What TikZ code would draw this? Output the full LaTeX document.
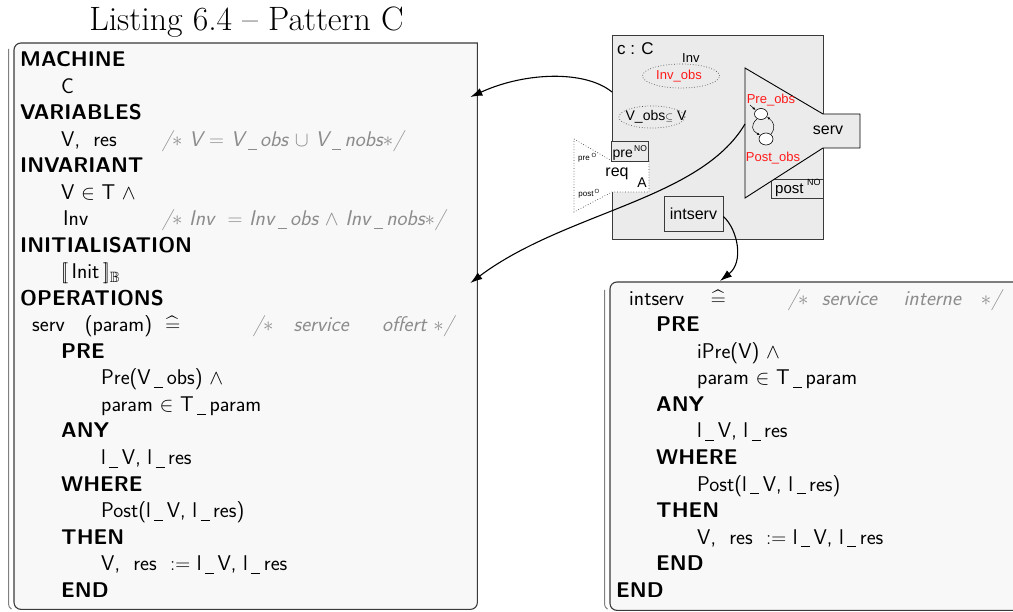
\documentclass[tikz,border=0pt]{standalone}
\usepackage{fontspec}
\usepackage{amssymb}
\usetikzlibrary{arrows.meta,calc}
\newfontfamily\arialf{Liberation Sans}
\definecolor{boxfill}{HTML}{F8F8F8}
\definecolor{compfill}{HTML}{EBEBEB}
\definecolor{cmtgray}{HTML}{8C8C8C}
\definecolor{obsred}{HTML}{FF1A1A}
\definecolor{framegray}{HTML}{3A3A3A}
\definecolor{bargray}{HTML}{808080}
\newcommand{\hateq}{\mathrel{\widehat{=}}}
\newcommand{\us}{\kern3.5pt\rule[-3pt]{9pt}{0.8pt}\kern3.5pt}
\begin{document}
\begin{tikzpicture}[x=1pt,y=-1pt,
  lst/.style={anchor=base west,inner sep=0pt,font=\fontsize{21.3}{25}\selectfont\sffamily},
  kw/.style={anchor=base west,inner sep=0pt,font=\fontsize{21.3}{25}\selectfont\sffamily\bfseries},
  cmt/.style={anchor=base west,inner sep=0pt,text=cmtgray,font=\fontsize{21.3}{25}\selectfont\sffamily\itshape},
  boxline/.style={draw=framegray,line width=1.1pt},
  barline/.style={draw=bargray,line width=1pt},
  dg/.style={inner sep=0pt,font=\fontsize{#1}{#1}\selectfont\arialf},
  dg/.default=15,
  conn/.style={line width=1.1pt,-{Latex[length=12pt,width=8pt]}},
  tiny/.style={line width=0.5pt,-{Latex[length=3pt,width=2.5pt]}},
  dotline/.style={dotted,line width=0.7pt,draw=black!70}]
\useasboundingbox (0,0) rectangle (1013,612);
\clip (0,0) rectangle (1013,612);

% title
\node[anchor=base,inner sep=0pt,font=\fontsize{33.8}{40}\selectfont\rmfamily] (title) at (246.5,31) {Listing 6.4 -- Pattern C};

% frames
\node[anchor=north west,minimum width=463pt,minimum height=566pt,inner sep=0pt] (lbox) at (14,43) {};
\node[anchor=north west,minimum width=420pt,minimum height=328pt,inner sep=0pt] (rbox) at (610,282) {};
\draw[boxline,fill=boxfill] (lbox.north east) [rounded corners=7pt] -- (lbox.south east) -- (lbox.south west) -- (lbox.north west) [sharp corners] -- cycle;
\draw[boxline,fill=boxfill] (rbox.north east) [rounded corners=7pt] -- (rbox.north west) -- (rbox.south west) -- (rbox.south east);
\draw[barline] (8.5,49) -- (8.5,604) arc[start angle=180,end angle=240,radius=6pt];
\draw[barline] (604.5,290) -- (604.5,604) arc[start angle=180,end angle=240,radius=6pt];

% left listing
\node[kw]  (l1)  at (20,67)    {MACHINE};
\node[lst] (l2)  at (61,93.5)  {C};
\node[kw]  (l3)  at (20,120)   {VARIABLES};
\node[lst] (l4)  at (61,146.5) {V,\ \ res};
\node[cmt] (c4)  at (162,146.5) {/$\ast$\ V $=$ V\us obs $\cup$\ V\us nobs$\ast$/};
\node[kw]  (l5)  at (20,173)   {INVARIANT};
\node[lst] (l6)  at (61,199.5) {V $\in$ T $\wedge$};
\node[lst] (l7)  at (63,226)   {Inv};
\node[cmt] (c7)  at (162,226)  {/$\ast$\ Inv\ \ $=$\ Inv\us obs $\wedge$ Inv\us nobs$\ast$/};
\node[kw]  (l8)  at (20,252.5) {INITIALISATION};
\node[lst] (l9)  at (61,279)   {$[\![$\,Init\,$]\!]_{\mathbb{B}}$};
\node[kw]  (l10) at (20,305.5) {OPERATIONS};
\node[lst] (l11) at (32,332)   {serv\ \ \ (param)\ \ $\hateq$};
\node[cmt] (c11) at (253,332)  {/$\ast$\ \ \ service\ \ \ \ \ offert\ $\ast$/};
\node[kw]  (l12) at (61,358.5) {PRE};
\node[lst] (l13) at (101,385)  {Pre(V\us obs) $\wedge$};
\node[lst] (l14) at (101,411.5) {param $\in$ T\us param};
\node[kw]  (l15) at (61,438)   {ANY};
\node[lst] (l16) at (101,464.5) {l\us V, l\us res};
\node[kw]  (l17) at (61,491)   {WHERE};
\node[lst] (l18) at (101,517.5) {Post(l\us V, l\us res)};
\node[kw]  (l19) at (61,544)   {THEN};
\node[lst] (l20) at (101,570.5) {V,\ \ res\ \ $:=$ l\us V, l\us res};
\node[kw]  (l21) at (61,597)   {END};

% right listing
\node[lst] (r10) at (629,305.5) {intserv\ \ \ \ $\hateq$};
\node[cmt] (rc10) at (788,305.5) {/$\ast$\ \ service\ \ \ \ interne\ \ \ $\ast$/};
\node[kw]  (r11) at (656,332)   {PRE};
\node[lst] (r12) at (697,358.5) {iPre(V) $\wedge$};
\node[lst] (r13) at (697,385)   {param $\in$ T\us param};
\node[kw]  (r14) at (656,411.5) {ANY};
\node[lst] (r15) at (697,438)   {l\us V, l\us res};
\node[kw]  (r16) at (656,464.5) {WHERE};
\node[lst] (r17) at (697,491)   {Post(l\us V, l\us res)};
\node[kw]  (r18) at (656,517.5) {THEN};
\node[lst] (r19) at (697,544)   {V,\ \ res\ \ $:=$ l\us V, l\us res};
\node[kw]  (r20) at (656,570.5) {END};
\node[kw]  (r21) at (616,597)   {END};

% component
\node[anchor=north west,draw=framegray,line width=0.9pt,fill=compfill,minimum width=211pt,minimum height=204pt,inner sep=0pt] (comp) at (612,35) {};
\node[dg=17,anchor=base west] (cname) at (617,55) {c : C};
\node[dg=13,anchor=base west] (inv) at (682,63) {Inv};
\draw[dotline] (681,76) ellipse[x radius=38.5pt,y radius=12pt];
\node[dg=13,text=obsred] (invobs) at (679,76) {Inv\_obs};
\draw[dotline] (652,117) ellipse[x radius=33pt,y radius=11pt];
\node[dg=14] (vobs) at (656,117) {V\_obs{\fontsize{10}{10}\selectfont$\subseteq$} V};

% req
\draw[dotline,fill=white] (574,139) -- (612,161) -- (649,161) -- (649,192) -- (612,192) -- (574,212) -- cycle;
\node[dg=16] (req) at (617,174) {req};
\node[dg=14] (reqA) at (642,183) {A};
\node[dg=8] (preo) at (584,159) {pre};
\node[dg=6] (preos) at (594,155) {O};
\node[dg=8] (posto) at (586,195) {post};
\node[dg=6] (postos) at (597,191) {O};

% pre box
\node[anchor=north west,draw=framegray,line width=0.9pt,fill=compfill,minimum width=37pt,minimum height=20pt,inner sep=0pt] (prebox) at (611,141) {};
\node[dg=14,anchor=base west] (pretxt) at (612.5,158) {pre};
\node[dg=8.5,anchor=base west] (preno) at (634,152) {NO};

% post box
\node[anchor=north west,draw=framegray,line width=0.9pt,fill=compfill,minimum width=52pt,minimum height=19pt,inner sep=0pt] (postbox) at (771,179) {};
\node[dg=15,anchor=base west] (posttxt) at (775,194) {post};
\node[dg=9,anchor=base west] (postno) at (807,186) {NO};

% serv
\draw[draw=black,line width=0.9pt,fill=compfill] (745,68) -- (823,114) -- (860,114) -- (860,148) -- (823,148) -- (745,198) -- cycle;
\node[dg=16] (serv) at (828,130) {serv};
\node[dg=13,text=obsred] (preobs) at (771,100) {Pre\_obs};
\node[dg=13,text=obsred] (postobs) at (773,158) {Post\_obs};
\draw[line width=0.6pt,fill=white] (761,114) ellipse[x radius=6.5pt,y radius=5.5pt];
\draw[line width=0.6pt,fill=white] (766,139) ellipse[x radius=7pt,y radius=6pt];
\draw[tiny] (750,105) -- (755.5,110);
\draw[tiny] (757,119) .. controls (750,125) and (752,131) .. (760,135);
\draw[tiny] (771,134) .. controls (776,128) and (774,122) .. (767,117);

% intserv
\node[draw=framegray,line width=0.9pt,fill=compfill,minimum width=59pt,minimum height=35pt,inner sep=0pt,font=\fontsize{16}{16}\selectfont\arialf] (intserv) at (693.5,213.5) {intserv};

% connectors
\coordinate (servedge) at (745,124);
\draw[conn] ($(comp.north west)+(0,57)$) .. controls (585,70) and (525,72) .. ($(lbox.north east)+(-7,54)$);
\draw[conn] (servedge) .. controls (700,200) and (565,212) .. ($(lbox.north east)+(-7,240)$);
\draw[conn] ([yshift=-3pt]intserv.east) .. controls (738,230) and (744,262) .. ($(rbox.north west)+(110,-1)$);
\end{tikzpicture}
\end{document}
